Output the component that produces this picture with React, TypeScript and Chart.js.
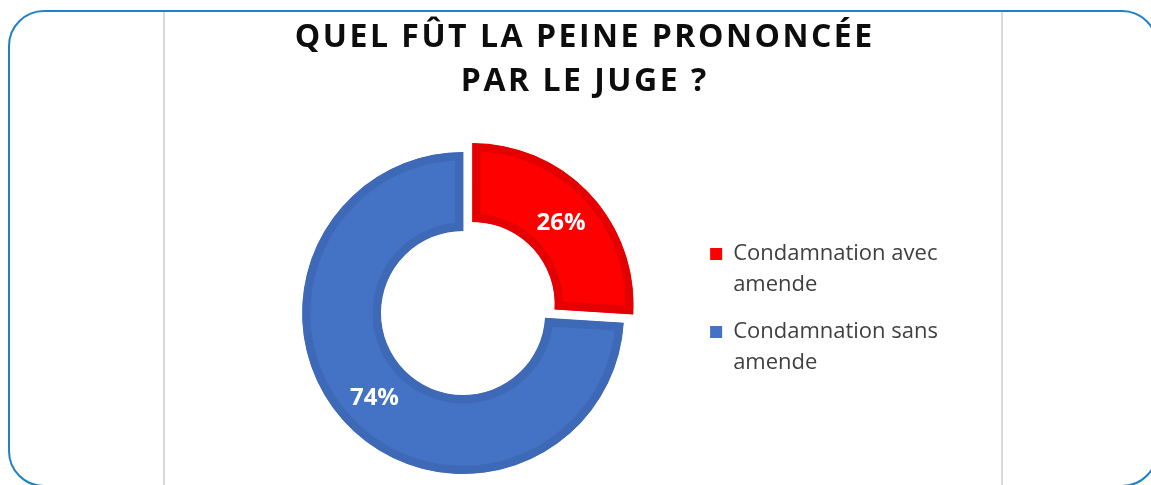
import React, { useEffect, useRef } from 'react';
import { Chart, DoughnutController, ArcElement, Legend } from 'chart.js';

Chart.register(DoughnutController, ArcElement, Legend);

// ---- Data ----
const TITLE_LINES = ['QUEL FÛT LA PEINE PRONONCÉE', 'PAR LE JUGE ?'];
const CATEGORIES = [
  ['Condamnation avec', 'amende'],
  ['Condamnation sans', 'amende'],
];
const VALUES = [26, 74];
const FILL_COLORS = ['#FF0000', '#4472C4'];
const BORDER_COLORS = ['#E40000', '#3E69B7'];
const SLICE_OFFSETS = [52, 0];

const pctLabels = {
  id: 'pctLabels',
  afterDatasetsDraw(chart: any) {
    const ctx = chart.ctx;
    const meta = chart.getDatasetMeta(0);
    const values = chart.data.datasets[0].data as number[];
    const total = values.reduce((a, b) => a + b, 0);
    ctx.save();
    ctx.font = 'bold 24px "Open Sans"';
    ctx.fillStyle = '#FFFFFF';
    ctx.textAlign = 'center';
    ctx.textBaseline = 'middle';
    meta.data.forEach((arc: any, i: number) => {
      const p = arc.getProps(['x', 'y', 'startAngle', 'endAngle', 'innerRadius', 'outerRadius'], true);
      const mid = (p.startAngle + p.endAngle) / 2;
      const shift = (arc.options.offset || 0) / 4;
      const r = (p.innerRadius + p.outerRadius) / 2;
      const cx = p.x + Math.cos(mid) * shift;
      const cy = p.y + Math.sin(mid) * shift;
      ctx.fillText(Math.round((values[i] / total) * 100) + '%', cx + Math.cos(mid) * r, cy + Math.sin(mid) * r + 2);
    });
    ctx.restore();
  },
};

export default function App() {
  const canvasRef = useRef<HTMLCanvasElement | null>(null);

  useEffect(() => {
    if (!canvasRef.current) return;
    const chart = new Chart(canvasRef.current, {
      type: 'doughnut',
      data: {
        labels: CATEGORIES as any,
        datasets: [
          {
            data: VALUES,
            backgroundColor: FILL_COLORS,
            borderColor: BORDER_COLORS,
            borderWidth: 8,
            borderAlign: 'inner',
            offset: SLICE_OFFSETS,
            hoverOffset: 0,
          } as any,
        ],
      },
      options: {
        responsive: false,
        animation: false,
        events: [],
        radius: 161,
        cutout: '51%',
        layout: { padding: { left: 232, right: 203, top: 141, bottom: 0 } },
        plugins: {
          legend: {
            position: 'right',
            align: 'center',
            labels: {
              boxWidth: 12,
              boxHeight: 12,
              padding: 16,
              color: '#404040',
              font: { family: 'Open Sans', size: 22, lineHeight: 1.41 },
              generateLabels: (c: any) => {
                const base = (Chart as any).overrides.doughnut.plugins.legend.labels.generateLabels(c);
                return base.map((it: any) => ({ ...it, lineWidth: 0 }));
              },
            },
          },
          tooltip: { enabled: false },
        },
      } as any,
      plugins: [pctLabels],
    });
    return () => chart.destroy();
  }, []);

  return (
    <div
      style={{
        position: 'fixed',
        left: 0,
        top: 0,
        width: 1151,
        height: 485,
        background: '#FFFFFF',
        overflow: 'hidden',
      }}
    >
      <div
        style={{
          position: 'absolute',
          left: 8,
          top: 10,
          width: 1150,
          height: 477,
          boxSizing: 'border-box',
          border: '2px solid #2181C2',
          borderRadius: 36,
        }}
      />
      <div style={{ position: 'absolute', left: 163, top: 12, width: 2, height: 473, background: '#D9D9D9' }} />
      <div style={{ position: 'absolute', left: 1001, top: 12, width: 2, height: 473, background: '#D9D9D9' }} />
      <canvas
        ref={canvasRef}
        width={1151}
        height={485}
        style={{ position: 'absolute', left: 0, top: 0, width: 1151, height: 485 }}
      />
      <div
        style={{
          position: 'absolute',
          left: 165,
          top: 13,
          width: 837,
          textAlign: 'center',
          fontFamily: '"Open Sans", sans-serif',
          fontWeight: 700,
          fontSize: 32,
          lineHeight: '44px',
          letterSpacing: 2.5,
          paddingLeft: 2.5,
          boxSizing: 'border-box',
          color: '#0D0D0D',
        }}
      >
        {TITLE_LINES.map((t) => (
          <div key={t}>{t}</div>
        ))}
      </div>
    </div>
  );
}
